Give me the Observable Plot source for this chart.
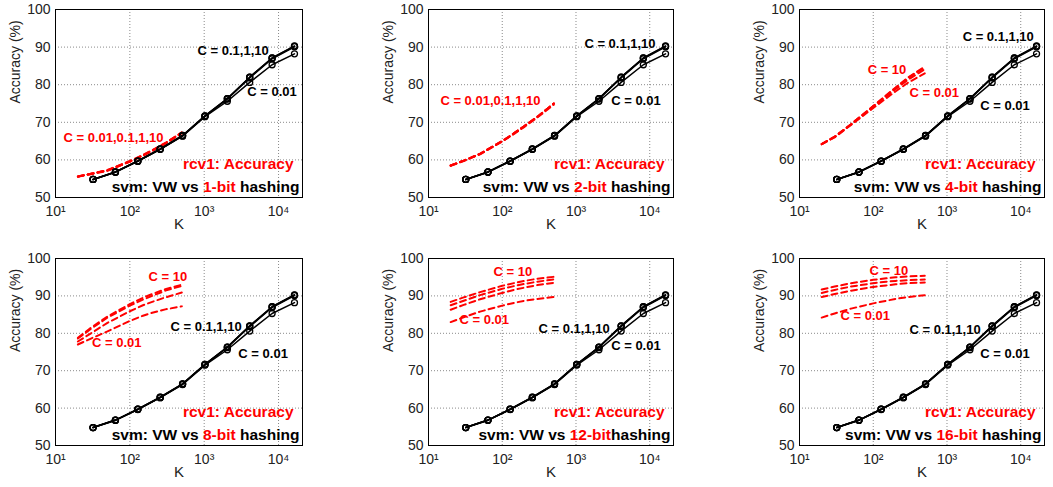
<!DOCTYPE html>
<html><head><meta charset="utf-8">
<script src="https://cdn.jsdelivr.net/npm/d3@7"></script>
<script src="https://cdn.jsdelivr.net/npm/@observablehq/plot@0.6"></script>
<style>
body{margin:0;background:#fff;}
#wrap{position:relative;width:1053px;height:487px;overflow:hidden;background:#fff;}
#wrap svg{position:absolute;}
</style></head><body><div id="wrap"></div>
<script>
// ---------- data ----------
const bits = [1, 2, 4, 8, 12, 16];
const Cs = ["0.01", "0.1", "1", "10"];
// VW (black, markers), same in every panel
const KVW = [32, 64, 128, 256, 512, 1024, 2048, 4096, 8192, 16384];
const vwC001 = [54.8, 56.7, 59.6, 62.8, 66.3, 71.5, 75.6, 80.6, 85.3, 88.2];
const vwC01  = [54.8, 56.8, 59.7, 62.8, 66.4, 71.6, 76.2, 81.8, 86.9, 90.1];
const vwC1   = [54.8, 56.8, 59.7, 62.9, 66.5, 71.7, 76.3, 82.0, 87.1, 90.2];
const vwC10  = [54.8, 56.8, 59.7, 62.9, 66.5, 71.7, 76.3, 82.0, 87.1, 90.3];
// b-bit hashing (red dashed), rows: C = 0.01, 0.1, 1, 10
const Khash = [20, 30, 50, 100, 150, 200, 300, 500];
const hash1 = [
  [55.5, 56.2, 57.1, 59.5, 61.1, 62.4, 64.3, 67.1],
  [55.6, 56.3, 57.2, 59.6, 61.2, 62.5, 64.4, 67.2],
  [55.6, 56.3, 57.2, 59.6, 61.2, 62.5, 64.4, 67.3],
  [55.6, 56.3, 57.3, 59.7, 61.3, 62.6, 64.5, 67.3]];
const hash2 = [
  [58.4, 59.7, 61.5, 64.9, 67.1, 68.8, 71.3, 74.7],
  [58.5, 59.8, 61.6, 65.0, 67.3, 69.0, 71.5, 75.0],
  [58.5, 59.8, 61.6, 65.0, 67.3, 69.0, 71.5, 75.0],
  [58.5, 59.8, 61.6, 65.0, 67.3, 69.0, 71.5, 75.0]];
const hash4 = [
  [64.2, 66.0, 69.3, 73.8, 76.4, 78.2, 80.6, 83.0],
  [64.2, 66.1, 69.4, 74.1, 76.9, 78.8, 81.4, 84.1],
  [64.2, 66.2, 69.5, 74.3, 77.1, 79.1, 81.9, 84.6],
  [64.2, 66.2, 69.5, 74.3, 77.2, 79.2, 82.0, 84.8]];
const hash8 = [
  [77.0, 78.6, 80.5, 83.3, 84.7, 85.5, 86.4, 87.2],
  [77.8, 80.0, 82.8, 85.9, 87.5, 88.4, 89.6, 90.9],
  [78.6, 81.2, 84.2, 87.4, 89.0, 90.0, 91.4, 92.7],
  [78.8, 81.5, 84.5, 87.8, 89.5, 90.5, 91.8, 93.0]];
const hash12 = [
  [83.0, 84.3, 85.8, 87.4, 88.2, 88.7, 89.2, 89.7],
  [86.3, 87.6, 89.1, 90.8, 91.7, 92.2, 92.9, 93.5],
  [87.5, 88.7, 90.2, 91.9, 92.7, 93.2, 93.8, 94.4],
  [88.4, 89.6, 91.0, 92.7, 93.5, 94.0, 94.6, 95.1]];
const hash16 = [
  [84.2, 85.3, 86.6, 88.0, 88.7, 89.2, 89.7, 90.2],
  [89.7, 90.5, 91.4, 92.4, 92.8, 93.1, 93.4, 93.6],
  [90.8, 91.6, 92.5, 93.4, 93.8, 94.0, 94.2, 94.4],
  [91.7, 92.5, 93.4, 94.3, 94.7, 95.0, 95.2, 95.4]];
const hashByBit = {1: hash1, 2: hash2, 4: hash4, 8: hash8, 12: hash12, 16: hash16};
// tick values
const xTicks = [10, 100, 1000, 10000];
const yTicks = [50, 60, 70, 80, 90, 100];
// annotation labels (data coordinates K, accuracy)
const blackLabelTop = [[813, 88.9], [1300, 91.0], [1630, 92.6], [352, 81.8], [310, 81.3], [310, 81.0]];
const blackLabelLow = [[3800, 78.2], [3000, 75.8], [2830, 74.5], [2880, 74.6], [3000, 76.7], [2830, 74.6]];
const redLabelHigh = [[12.8, 66.0, "C = 0.01,0.1,1,10"], [14.5, 75.8, "C = 0.01,0.1,1,10"], [84, 84.0, "C = 10"], [178, 95.2, "C = 10"], [76, 96.5, "C = 10"], [89, 96.8, "C = 10"]];
const redLabelLow = [null, null, [310, 77.9], [31, 77.5], [26.3, 83.7], [36, 84.8]];
const titleLine1 = "rcv1: Accuracy";

// ---------- drawing ----------
const FONT = '"Liberation Sans", Arial, Helvetica, sans-serif';
const sup = {1: "\u00b9", 2: "\u00b2", 3: "\u00b3", 4: "\u2074"};
const cols = [{left: 0, ml: 55, mr: 49}, {left: 351, ml: 77, mr: 29}, {left: 702, ml: 97, mr: 9}];
const rows = [{top: 0, mt: 9, mb: 46}, {top: 243, mt: 15, mb: 41}];
const vwSeries = [vwC001, vwC01, vwC1, vwC10];
const vwRows = [];
vwSeries.forEach((arr, j) => arr.forEach((v, i) => vwRows.push({C: Cs[j], K: KVW[i], acc: v})));

const wrap = document.getElementById("wrap");
bits.forEach((b, p) => {
  const col = cols[p % 3], row = rows[Math.floor(p / 3)];
  const hashRows = [];
  hashByBit[b].forEach((arr, j) => arr.forEach((v, i) => hashRows.push({C: Cs[j], K: Khash[i], acc: v})));
  const blackLabels = [
    {K: blackLabelTop[p][0], acc: blackLabelTop[p][1], t: "C = 0.1,1,10"},
    {K: blackLabelLow[p][0], acc: blackLabelLow[p][1], t: "C = 0.01"}];
  const redLabels = [{K: redLabelHigh[p][0], acc: redLabelHigh[p][1], t: redLabelHigh[p][2]}];
  if (redLabelLow[p]) redLabels.push({K: redLabelLow[p][0], acc: redLabelLow[p][1], t: "C = 0.01"});
  const caption = "svm: VW vs " + b + "-bit" + (b === 12 ? "" : " ") + "hashing";
  const svg = Plot.plot({
    width: 351, height: 243,
    marginLeft: col.ml, marginRight: col.mr, marginTop: row.mt, marginBottom: row.mb,
    style: {fontFamily: FONT, fontSize: "14px", background: "transparent", overflow: "visible", color: "black"},
    x: {type: "log", domain: [10, 21000]},
    y: {domain: [50, 100]},
    marks: [
      Plot.gridY(yTicks.slice(1, -1), {stroke: "#8a8a8a", strokeOpacity: 1, strokeDasharray: "1,2"}),
      Plot.gridX(xTicks.slice(1), {stroke: "#8a8a8a", strokeOpacity: 1, strokeDasharray: "1,2"}),
      Plot.axisY({ticks: yTicks, tickSize: 0, tickPadding: 5, fontSize: 14, label: null, fill: "#222"}),
      Plot.axisX({ticks: xTicks, tickFormat: d => "10" + sup[Math.round(Math.log10(d))], tickSize: 0, tickPadding: 9, fontSize: 14, label: null, fill: "#222"}),
      Plot.line(hashRows, {x: "K", y: "acc", z: "C", stroke: "#ff0000", strokeWidth: 2, strokeDasharray: "6,4"}),
      Plot.line(vwRows, {x: "K", y: "acc", z: "C", stroke: "black", strokeWidth: 1.5}),
      Plot.dot(vwRows, {x: "K", y: "acc", r: 3, stroke: "black", strokeWidth: 1.3, fill: "none"}),
      Plot.text(blackLabels, {x: "K", y: "acc", text: "t", fill: "black", textAnchor: "start", fontWeight: "bold", fontSize: 13}),
      Plot.text(redLabels, {x: "K", y: "acc", text: "t", fill: "#ff0000", textAnchor: "start", fontWeight: "bold", fontSize: 13}),
      Plot.text([titleLine1], {x: () => 15900, y: () => 59.0, text: d => d, fill: "#ff0000", textAnchor: "end", fontWeight: "bold", fontSize: 15.5}),
      Plot.text([caption], {x: () => 19100, y: () => 52.7, text: d => d, fill: "black", textAnchor: "end", fontWeight: "bold", fontSize: 15.5}),
      Plot.text(["Accuracy (%)"], {frameAnchor: "left", dx: -40, rotate: -90, fontSize: 14, fill: "#222"}),
      Plot.text(["K"], {frameAnchor: "bottom", dy: 31, fontSize: 15, fill: "#222"}),
      Plot.frame({stroke: "black", strokeWidth: 1})
    ]
  });
  svg.style.left = col.left + "px";
  svg.style.top = row.top + "px";
  // colour the "b-bit" part of the caption red
  svg.querySelectorAll("text").forEach(t => {
    if (t.textContent === caption) {
      while (t.firstChild) t.removeChild(t.firstChild);
      const parts = [["svm: VW vs ", "black"], [b + "-bit", "#ff0000"], [(b === 12 ? "" : " ") + "hashing", "black"]];
      parts.forEach(([s, c]) => {
        const ts = document.createElementNS("http://www.w3.org/2000/svg", "tspan");
        ts.setAttribute("fill", c);
        ts.setAttribute("xml:space", "preserve");
        ts.style.whiteSpace = "pre";
        ts.textContent = s;
        t.appendChild(ts);
      });
    }
  });
  wrap.appendChild(svg);
});
</script></body></html>
